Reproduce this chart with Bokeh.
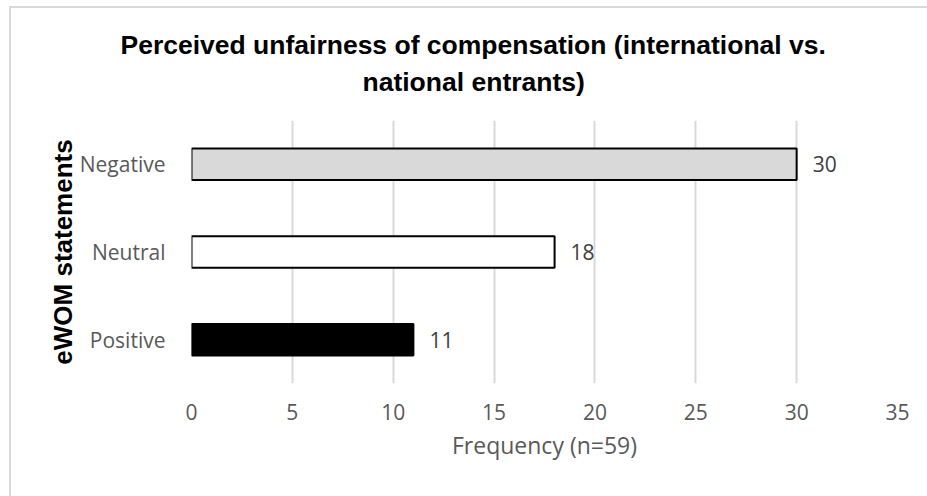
from bokeh.plotting import figure
from bokeh.models import (Range1d, FactorRange, FixedTicker, Title,
                          ColumnDataSource)
from bokeh.core.properties import value
from bokeh.embed import file_html
from bokeh.resources import INLINE

# eWOM statement categories, listed bottom to top
categories = ["Positive", "Neutral", "Negative"]
frequencies = [11, 18, 30]
bar_colors = ["#000000", "#ffffff", "#d9d9d9"]
x_ticks = [0, 5, 10, 15, 20, 25, 30, 35]
title_lines = ["Perceived unfairness of compensation (international vs.",
               "national entrants)"]
x_title = "Frequency (n=59)"
y_title = "eWOM statements"

source = ColumnDataSource(dict(
    cat=categories,
    freq=frequencies,
    color=bar_colors,
    label=[str(v) for v in frequencies],
))

p = figure(
    width=927, height=496,
    output_backend="svg", toolbar_location=None,
    y_range=FactorRange(factors=categories),
    x_range=Range1d(0, 35),
    min_border_left=191, min_border_right=30,
    min_border_top=120, min_border_bottom=113,
)
p.background_fill_color = "white"
# transparent outer area so the chart-area border drawn by CSS shows through
p.border_fill_alpha = 0
p.outline_line_color = None
p.styles = {
    "background":
        "linear-gradient(#d9d9d9, #d9d9d9) 9px 6px / 2px 490px no-repeat, "
        "linear-gradient(#d9d9d9, #d9d9d9) 9px 6px / 918px 2px no-repeat, "
        "white",
}

# bars
p.hbar(y="cat", left=0, right="freq", height=0.36, source=source,
       fill_color="color", line_color="black", line_width=2)

# value labels at the bar ends
p.text(x="freq", y="cat", text="label", source=source,
       x_offset=16, text_baseline="middle", text_align="left",
       text_font=value("Open Sans"), text_font_size="21px",
       text_color="#404040")

# grid
p.xgrid.grid_line_color = "#d9d9d9"
p.xgrid.grid_line_width = 2
p.ygrid.grid_line_color = None

# x axis
p.xaxis.ticker = FixedTicker(ticks=x_ticks)
p.xaxis.axis_line_color = None
p.xaxis.major_tick_line_color = None
p.xaxis.minor_tick_line_color = None
p.xaxis.major_label_standoff = 14
p.xaxis.major_label_text_font = "Open Sans"
p.xaxis.major_label_text_font_size = "21px"
p.xaxis.major_label_text_color = "#595959"
p.xaxis.axis_label = x_title
p.xaxis.axis_label_standoff = 6
p.xaxis.axis_label_text_font = "Open Sans"
p.xaxis.axis_label_text_font_size = "23px"
p.xaxis.axis_label_text_font_style = "normal"
p.xaxis.axis_label_text_color = "#595959"

# y axis
p.yaxis.axis_line_color = None
p.yaxis.major_tick_line_color = None
p.yaxis.minor_tick_line_color = None
p.yaxis.major_label_standoff = 20
p.yaxis.major_label_text_font = "Open Sans"
p.yaxis.major_label_text_font_size = "21px"
p.yaxis.major_label_text_color = "#595959"
p.yaxis.axis_label = y_title
p.yaxis.axis_label_standoff = -1
p.yaxis.axis_label_text_font = "Liberation Sans"
p.yaxis.axis_label_text_font_size = "26px"
p.yaxis.axis_label_text_font_style = "bold"
p.yaxis.axis_label_text_color = "black"

# two-line chart title, centred over the whole chart area;
# the title added first sits nearest the plot frame
for line, gap, shift in [(title_lines[1], 48, 171), (title_lines[0], -38, -71)]:
    p.add_layout(Title(text=line, align="left", offset=shift,
                       standoff=gap, text_font="Liberation Sans",
                       text_font_style="bold", text_font_size="26.5px",
                       text_color="black"), "above")

open("out.html", "w").write(file_html(p, INLINE))
